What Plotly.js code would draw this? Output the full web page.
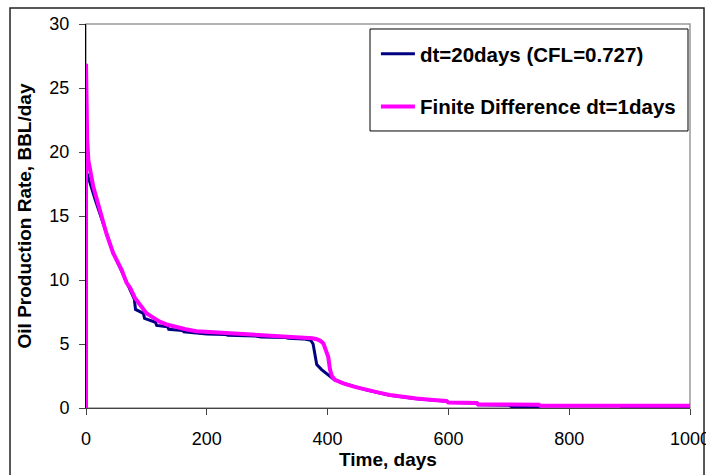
<!DOCTYPE html>
<html>
<head>
<meta charset="utf-8">
<script src="https://cdn.plot.ly/plotly-3.0.1.min.js"></script>
<style>html,body{margin:0;padding:0;background:#fff;}#chart{width:706px;height:475px;}</style>
</head>
<body>
<div id="chart"></div>
<script>
// Finite difference, dt = 1 day (magenta)
const fdDays = [0,0,2,4,12,23,34,45,59,67,73,81,89,100,110,122,135,150,165,183,200,222,250,277,300,332,350,365,375,382,388,393,397,401,404,407,412,426,445,465,485,503,525,547,575,597,600,647,649,750,752,1000];
const fdRate = [0,26.9,20.9,19.3,17.3,15.5,13.6,12.1,10.8,9.8,9.4,8.6,8.1,7.4,7.1,6.75,6.5,6.3,6.15,6.0,5.95,5.9,5.82,5.75,5.7,5.6,5.55,5.5,5.45,5.37,5.25,5.05,4.6,4.0,3.0,2.5,2.2,1.93,1.65,1.4,1.2,1.02,0.87,0.75,0.63,0.55,0.42,0.4,0.28,0.26,0.18,0.18];

// dt = 20 days (CFL = 0.727) (navy)
const dt20Days = [2,8,15,25,35,45,55,65,75,80,82,95,97,115,117,135,137,160,162,190,200,230,235,280,290,330,335,360,372,376,379,382,390,400,410,426,465,503,547,597,600,648,650,700,705,750,752,885,887,1000];
const dt20Rate = [18.3,17.3,16.3,14.9,13.5,12.1,11.1,10.1,9.0,8.5,7.7,7.4,7.0,6.7,6.45,6.35,6.15,6.05,5.95,5.85,5.78,5.75,5.68,5.62,5.55,5.5,5.45,5.4,5.3,5.0,4.0,3.4,3.0,2.6,2.25,1.93,1.4,1.0,0.72,0.52,0.45,0.38,0.26,0.22,0.1,0.1,0.17,0.17,0.09,0.09];

const seriesNames = ["dt=20days (CFL=0.727)", "Finite Difference dt=1days"];
const xTicks = [0,200,400,600,800,1000];
const yTicks = [0,5,10,15,20,25,30];

const FONT = "Liberation Sans, Arial, Helvetica, sans-serif";

const traces = [
  {x: dt20Days, y: dt20Rate, mode: "lines", name: seriesNames[0], legendgroup: "a",
   line: {color: "#000080", width: 3}},
  {x: fdDays, y: fdRate, mode: "lines", name: seriesNames[1], legendgroup: "b",
   line: {color: "#FF00FF", width: 4}}
];

const layout = {
  width: 706, height: 475,
  margin: {l: 86, r: 16, t: 24, b: 67},
  paper_bgcolor: "#fff", plot_bgcolor: "#fff",
  font: {family: FONT, size: 18, color: "#000"},
  showlegend: true,
  legend: {
    x: 0.480, y: 0.974, xanchor: "left", yanchor: "top",
    borderwidth: 0, bgcolor: "rgba(0,0,0,0)",
    font: {family: FONT, size: 20.5, color: "#000", weight: "bold"},
    tracegroupgap: 23, traceorder: "grouped", itemwidth: 34
  },
  xaxis: {
    range: [0, 1000], tickvals: xTicks, ticktext: xTicks.map(String),
    showgrid: false, zeroline: false, showline: true, linecolor: "#444", linewidth: 1,
    ticks: "outside", ticklen: 6, tickcolor: "#444", ticklabelstandoff: 8,
    ticklabeloverflow: "allow",
    tickfont: {family: FONT, size: 18, color: "#000"},
    title: {text: "Time, days", font: {family: FONT, size: 19, color: "#000", weight: "bold"}, standoff: 3}
  },
  yaxis: {
    range: [0, 30], tickvals: yTicks, ticktext: yTicks.map(String),
    showgrid: false, zeroline: false, showline: true, linecolor: "#000", linewidth: 1,
    ticks: "outside", ticklen: 6, tickcolor: "#444", ticklabelstandoff: 6,
    tickfont: {family: FONT, size: 18, color: "#000"},
    title: {text: "Oil Production Rate, BBL/day", font: {family: FONT, size: 19, color: "#000", weight: "bold"}, standoff: 12}
  },
  shapes: [
    {type: "rect", xref: "paper", yref: "paper", x0: 0, x1: 1, y0: 0, y1: 1,
     line: {color: "#999", width: 1.5}, layer: "below"},
    {type: "rect", xref: "paper", yref: "paper", x0: -0.1258, x1: 1.0232, y0: -0.2, y1: 1.0417,
     line: {color: "#222", width: 1.5}, layer: "below"},
    {type: "rect", xref: "paper", yref: "paper", x0: 0.4702, x1: 0.9967, y0: 0.7214, y1: 0.987,
     line: {color: "#000", width: 1}, fillcolor: "#fff", layer: "above"}
  ]
};

Plotly.newPlot("chart", traces, layout, {displayModeBar: false, staticPlot: true});
</script>
</body>
</html>
